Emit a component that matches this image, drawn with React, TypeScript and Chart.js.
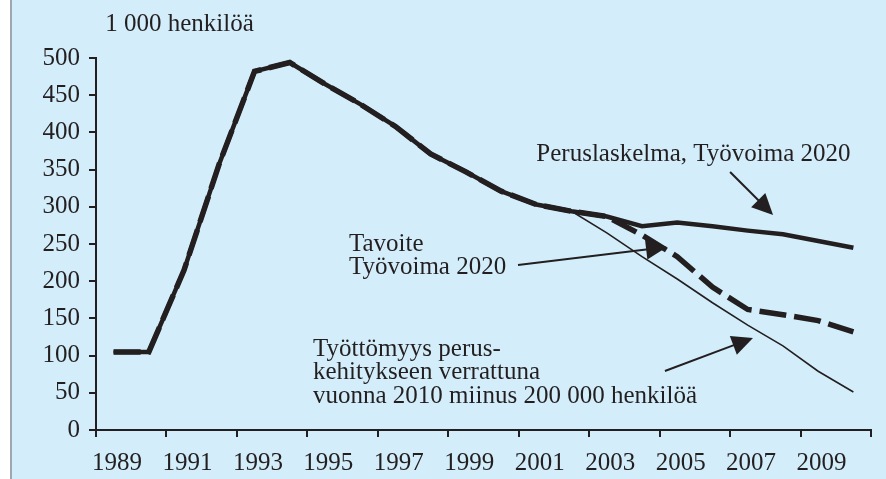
import React, { useEffect, useRef } from 'react';
import { Chart, registerables } from 'chart.js';

Chart.register(...registerables);

// ---- Data ----
const years = [1989, 1990, 1991, 1992, 1993, 1994, 1995, 1996, 1997, 1998, 1999, 2000, 2001, 2002, 2003, 2004, 2005, 2006, 2007, 2008, 2009, 2010];
const perusValues = [105, 105, 215, 358, 482, 494, 465, 438, 408, 371, 347, 321, 303, 294, 287, 274, 279, 274, 268, 263, 254, 245];
const tavoiteValues = [105, 105, 215, 358, 482, 494, 465, 438, 408, 371, 347, 321, 303, 294, 287, 262, 233, 192, 162, 155, 147, 132];
const tyottomyysValues = [105, 105, 215, 358, 482, 494, 465, 438, 408, 371, 347, 321, 303, 294, 265, 233, 203, 171, 141, 113, 79, 51];
const yTicks = [0, 50, 100, 150, 200, 250, 300, 350, 400, 450, 500];
const xTickLabels = ['1989', '1991', '1993', '1995', '1997', '1999', '2001', '2003', '2005', '2007', '2009'];
const yUnitLabel = '1 000 henkilöä';

// ---- Annotations (in data units) ----
const textBlocks = [
  { lines: [yUnitLabel], x: 1988.76, y: 536 },
  { lines: ['Peruslaskelma, Työvoima 2020'], x: 2001.0, y: 361.6 },
  { lines: ['Tavoite', 'Työvoima 2020'], x: 1995.68, y: 240.6 },
  { lines: ['Työttömyys perus-', 'kehitykseen verrattuna', 'vuonna 2010 miinus 200 000 henkilöä'], x: 1994.66, y: 99.5 },
];
const arrows = [
  { from: [2006.5, 346.8], to: [2007.72, 289] },
  { from: [2000.48, 221.8], to: [2004.71, 246] },
  { from: [2004.65, 79.3], to: [2007.15, 123.7] },
];

const INK = '#231f20';
const FONT = '"Liberation Serif", "Times New Roman", serif';

const annotationPlugin = {
  id: 'annotations',
  afterDraw(chart: any) {
    const { ctx, scales } = chart;
    const xs = scales.x;
    const ys = scales.y;
    ctx.save();
    ctx.fillStyle = INK;
    ctx.strokeStyle = INK;
    ctx.font = `25px ${FONT}`;
    ctx.textAlign = 'left';
    ctx.textBaseline = 'alphabetic';
    for (const b of textBlocks) {
      const px = xs.getPixelForValue(b.x);
      const py = ys.getPixelForValue(b.y);
      b.lines.forEach((l, i) => ctx.fillText(l, px, py + i * 23.5));
    }
    for (const a of arrows) {
      const x0 = xs.getPixelForValue(a.from[0]);
      const y0 = ys.getPixelForValue(a.from[1]);
      const x1 = xs.getPixelForValue(a.to[0]);
      const y1 = ys.getPixelForValue(a.to[1]);
      const ang = Math.atan2(y1 - y0, x1 - x0);
      const headLen = 21;
      const headHalf = 10;
      const bx = x1 - headLen * Math.cos(ang);
      const by = y1 - headLen * Math.sin(ang);
      ctx.lineWidth = 2;
      ctx.beginPath();
      ctx.moveTo(x0, y0);
      ctx.lineTo(bx + 2 * Math.cos(ang), by + 2 * Math.sin(ang));
      ctx.stroke();
      ctx.beginPath();
      ctx.moveTo(x1, y1);
      ctx.lineTo(bx + headHalf * Math.sin(ang), by - headHalf * Math.cos(ang));
      ctx.lineTo(bx - headHalf * Math.sin(ang), by + headHalf * Math.cos(ang));
      ctx.closePath();
      ctx.fill();
    }
    ctx.restore();
  },
};

export default function App() {
  const ref = useRef<HTMLCanvasElement | null>(null);
  useEffect(() => {
    if (!ref.current) return;
    const toPts = (vals: number[]) => years.map((yr, i) => ({ x: yr, y: vals[i] }));
    const chart = new Chart(ref.current, {
      type: 'line',
      data: {
        datasets: [
          {
            label: 'Tavoite Työvoima 2020',
            data: toPts(tavoiteValues),
            borderColor: INK,
            borderWidth: 5.5,
            borderDash: [27, 8],
            pointRadius: 0,
            tension: 0,
            order: 0,
          },
          {
            label: 'Peruslaskelma, Työvoima 2020',
            data: toPts(perusValues),
            borderColor: INK,
            borderWidth: 4.5,
            pointRadius: 0,
            tension: 0,
            order: 1,
          },
          {
            label: 'Työttömyys',
            data: toPts(tyottomyysValues),
            borderColor: INK,
            borderWidth: 1.6,
            pointRadius: 0,
            tension: 0,
            order: 2,
          },
        ],
      },
      options: {
        animation: false,
        responsive: false,
        maintainAspectRatio: false,
        layout: { padding: { left: 0, top: 58, right: 15, bottom: 0 } },
        plugins: { legend: { display: false }, tooltip: { enabled: false }, title: { display: false } },
        scales: {
          x: {
            type: 'linear',
            min: 1988.5,
            max: 2010.5,
            afterBuildTicks: (axis: any) => {
              axis.ticks = [...xTickLabels.map((l) => ({ value: Number(l) - 0.5 })), { value: 2010.5 }];
            },
            afterFit: (axis: any) => {
              axis.height = 49;
            },
            ticks: {
              autoSkip: false,
              maxRotation: 0,
              minRotation: 0,
              labelOffset: 21,
              padding: 11,
              color: INK,
              font: { family: FONT, size: 25 },
              callback: (value: any) => {
                const lbl = String(Number(value) + 0.5);
                return xTickLabels.includes(lbl) ? lbl : '';
              },
            },
            grid: { drawOnChartArea: false, drawTicks: true, tickLength: 7, color: INK, lineWidth: 2 },
            border: { display: true, color: INK, width: 2 },
          },
          y: {
            type: 'linear',
            min: 0,
            max: 500,
            afterBuildTicks: (axis: any) => {
              axis.ticks = yTicks.map((v) => ({ value: v }));
            },
            afterFit: (axis: any) => {
              axis.width = 96;
            },
            ticks: {
              padding: 9,
              color: INK,
              font: { family: FONT, size: 25 },
            },
            grid: { drawOnChartArea: false, drawTicks: true, tickLength: 7, color: INK, lineWidth: 2 },
            border: { display: true, color: INK, width: 2 },
          },
        },
      },
      plugins: [annotationPlugin],
    } as any);
    return () => chart.destroy();
  }, []);

  return (
    <div style={{ position: 'fixed', left: 0, top: 0, width: 886, height: 479, background: '#ffffff', overflow: 'hidden' }}>
      <div
        style={{
          position: 'absolute',
          left: 10,
          top: 0,
          width: 876,
          height: 479,
          background: '#d3eefa',
          borderLeft: '2px solid #9ea7ad',
          boxSizing: 'border-box',
        }}
      />
      <canvas ref={ref} width={886} height={479} style={{ position: 'absolute', left: 0, top: 0, width: 886, height: 479 }} />
    </div>
  );
}
